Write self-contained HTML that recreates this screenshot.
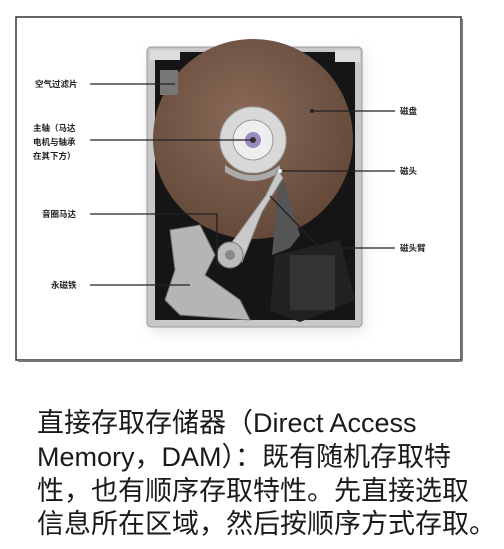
<!DOCTYPE html>
<html><head><meta charset="utf-8"><style>
body{margin:0;width:504px;height:549px;background:#fff;overflow:hidden;position:relative;font-family:"Liberation Sans","Noto Sans CJK SC",sans-serif}
.t{position:absolute;left:37px;font-size:27px;color:#1a1a1a;white-space:nowrap;line-height:30px}
</style></head><body>
<svg width="504" height="380" style="position:absolute;left:0;top:0">
<defs>
<radialGradient id="pl" cx="0.45" cy="0.4" r="0.7"><stop offset="0" stop-color="#8a6a58"/><stop offset="1" stop-color="#5e4435"/></radialGradient>
<filter id="sh"><feGaussianBlur stdDeviation="6"/></filter>
</defs>
<rect x="16" y="17" width="445" height="343" fill="#fff" stroke="#333" stroke-width="1.5"/>
<line x1="18" y1="361" x2="462" y2="361" stroke="#777" stroke-width="2"/>
<line x1="462" y1="19" x2="462" y2="361" stroke="#777" stroke-width="2"/>
<rect x="150" y="52" width="215" height="280" fill="#ccc" filter="url(#sh)" opacity="0.5"/>
<rect x="147" y="47" width="215" height="280" rx="4" fill="#c8c8c8" stroke="#999"/>
<rect x="155" y="52" width="200" height="268" fill="#151515"/>
<circle cx="253" cy="139" r="100" fill="url(#pl)"/>
<circle cx="253" cy="140" r="33" fill="#d8d8d8" stroke="#aaa"/>
<circle cx="253" cy="140" r="20" fill="#eee" stroke="#999"/>
<circle cx="253" cy="140" r="8" fill="#9a8ac0"/>
<circle cx="253" cy="140" r="3" fill="#333"/>
<path d="M225 165 Q253 185 280 165 L280 172 Q253 190 225 172Z" fill="#aaa"/>
<path d="M280 168 L300 235 L290 248 L272 255 Z" fill="#555"/>
<polygon points="278,170 266,195 230,245 242,262 262,212 283,178" fill="#c9c9c9" stroke="#888"/>
<circle cx="230" cy="255" r="13" fill="#bbb" stroke="#777"/>
<circle cx="230" cy="255" r="5" fill="#888"/>
<path d="M170 230 L200 225 L215 255 L205 275 L240 300 L250 320 L180 315 L165 300 L175 270 Z" fill="#b5b5b5" stroke="#777"/>
<path d="M275 255 L340 240 L355 300 L300 322 L270 310 Z" fill="#222"/>
<rect x="290" y="255" width="45" height="55" fill="#333"/>
<rect x="150" y="50" width="30" height="10" fill="#ddd"/>
<rect x="335" y="50" width="25" height="12" fill="#ddd"/>
<rect x="160" y="70" width="18" height="25" fill="#777"/>
<g stroke="#222" stroke-width="1.3" fill="none">
<line x1="90" y1="84" x2="175" y2="84"/>
<line x1="312" y1="111" x2="395" y2="111"/>
<line x1="90" y1="140" x2="253" y2="140"/>
<line x1="280" y1="171" x2="395" y2="171"/>
<polyline points="90,214 217,214 217,265"/>
<polyline points="270,196 320,248 395,248"/>
<line x1="90" y1="285" x2="190" y2="285"/>
</g>
<circle cx="312" cy="111" r="2" fill="#222"/><circle cx="280" cy="171" r="2" fill="#fff"/>
<g font-size="8.5" font-weight="bold" fill="#222" font-family="Liberation Sans,Noto Sans CJK SC,sans-serif">
<text x="35" y="87">空气过滤片</text>
<text x="33" y="131">主轴（马达</text>
<text x="33" y="145">电机与轴承</text>
<text x="33" y="159">在其下方）</text>
<text x="42" y="217">音圈马达</text>
<text x="51" y="288">永磁铁</text>
<text x="400" y="114">磁盘</text>
<text x="400" y="174">磁头</text>
<text x="400" y="251">磁头臂</text>
</g>
</svg>
<div class="t" style="top:408px">直接存取存储器（Direct Access</div>
<div class="t" style="top:442px">Memory，DAM）：既有随机存取特</div>
<div class="t" style="top:476px">性，也有顺序存取特性。先直接选取</div>
<div class="t" style="top:509px">信息所在区域，然后按顺序方式存取。</div>
</body></html>
